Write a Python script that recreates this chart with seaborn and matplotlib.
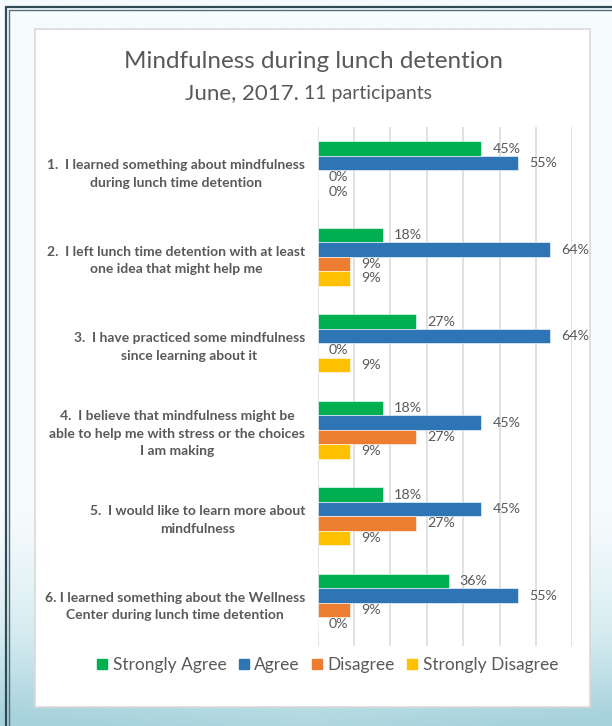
import numpy as np
import pandas as pd
import matplotlib
matplotlib.use("Agg")
import matplotlib.pyplot as plt
import seaborn as sns
from matplotlib.lines import Line2D
from matplotlib.patches import Rectangle
from matplotlib.colors import LinearSegmentedColormap

# ---------------- data ----------------
questions = [
    "1.  I learned something about mindfulness\nduring lunch time detention",
    "2.  I left lunch time detention with at least\none idea that might help me",
    "3.  I have practiced some mindfulness\nsince learning about it",
    "4.  I believe that mindfulness might be\nable to help me with stress or the choices\nI am making",
    "5.  I would like to learn more about\nmindfulness",
    "6. I learned something about the Wellness\nCenter during lunch time detention",
]
responses = ["Strongly Agree", "Agree", "Disagree", "Strongly Disagree"]
strongly_agree = [45, 18, 27, 18, 18, 36]
agree = [55, 64, 64, 45, 45, 55]
disagree = [0, 9, 0, 27, 27, 9]
strongly_disagree = [0, 9, 9, 9, 9, 0]
colors = ["#00B050", "#2E75B6", "#ED7D31", "#FFC000"]
title = "Mindfulness during lunch detention"
subtitle_a = "June, 2017."
subtitle_b = "11 participants"

series = [strongly_agree, agree, disagree, strongly_disagree]
rows = []
for r, vals in zip(responses, series):
    for q, v in zip(questions, vals):
        rows.append({"question": q, "response": r, "value": v})
df = pd.DataFrame(rows)

# ---------------- figure ----------------
sns.set_style("white")
plt.rcParams["font.family"] = ["Lato", "DejaVu Sans"]

W, H = 612, 726
fig = plt.figure(figsize=(W / 100, H / 100), dpi=100)
fig.patch.set_facecolor("#f6fbfd")

# background gradient
bg = fig.add_axes([0, 0, 1, 1], zorder=-5)
bg.set_axis_off()
ys = np.linspace(0, 1, 400)[:, None]  # 0 top -> 1 bottom
t = np.clip((ys - 0.70) / 0.30, 0, 1) ** 1.3
xs = np.linspace(0, 1, 300)[None, :]
t = np.clip(t * (0.9 + 0.15 * np.abs(xs - 0.5) * 2), 0, 1)
cmap = LinearSegmentedColormap.from_list("bgc", ["#f6fbfd", "#d6ecf1", "#a7d2dc"])
bg.imshow(t, cmap=cmap, aspect="auto", extent=[0, 1, 0, 1], vmin=0, vmax=1)
bg.set_xlim(0, 1)
bg.set_ylim(0, 1)

# frame lines
def px(x):
    return x / W
def py(y):
    return 1 - y / H
for (xv, c, lw) in [(5.6, "#2f4c56", 1.6), (8.8, "#51707a", 1.0)]:
    fig.add_artist(Line2D([px(xv), px(xv)], [py(xv + 1.5), 0], color=c, lw=lw, zorder=-3))
    fig.add_artist(Line2D([px(xv), 1], [py(xv + 1.5), py(xv + 1.5)], color=c, lw=lw, zorder=-3))

# white chart box
fig.add_artist(Rectangle((px(35), py(707)), px(590) - px(35), py(29) - py(707),
                         facecolor="white", edgecolor="#d9d9d9", lw=1.2, zorder=-2,
                         transform=fig.transFigure))

# main axes
ax = fig.add_axes([px(317.5), py(646), px(572.3) - px(317.5), py(127) - py(646)], zorder=2)
ax.set_facecolor("none")
sns.barplot(data=df, x="value", y="question", hue="response", order=questions,
            hue_order=responses, palette=colors, saturation=1, width=0.67,
            orient="h", ax=ax, legend=False, edgecolor="white", linewidth=0.4)

ax.set_xlim(0, 70)
ax.set_xticks(np.arange(0, 71, 10))
ax.set_xticklabels([])
ax.xaxis.grid(True, color="#d9d9d9", lw=1.1)
ax.set_axisbelow(True)
ax.tick_params(axis="both", length=0)
for s in ax.spines.values():
    s.set_visible(False)
ax.set_xlabel("")
ax.set_ylabel("")
ax.set_yticks(range(len(questions)))
ax.set_yticklabels(questions, fontsize=10, fontweight="bold", color="#595959",
                   multialignment="center", linespacing=1.55)
ax.tick_params(axis="y", pad=9)

for cont in ax.containers:
    ax.bar_label(cont, fmt="%g%%", padding=8, color="#595959", fontsize=10.3)

# titles
fig.text(px(313), py(61), title, ha="center", va="center", fontsize=17.5, color="#595959")
fig.text(px(299), py(99), subtitle_a, ha="right", va="baseline", fontsize=16, color="#595959")
fig.text(px(304), py(99), subtitle_b, ha="left", va="baseline", fontsize=14, color="#595959")

# legend
handles = [Line2D([], [], marker="s", linestyle="none", markersize=7.5,
                  markerfacecolor=c, markeredgecolor=c) for c in colors]
fig.legend(handles, responses, loc="center", bbox_to_anchor=(px(326), py(665)),
           ncol=4, frameon=False, fontsize=12.5, handletextpad=0.1, columnspacing=0.5,
           handlelength=1.0, labelcolor="#595959")

fig.savefig("out.png", dpi=100)
